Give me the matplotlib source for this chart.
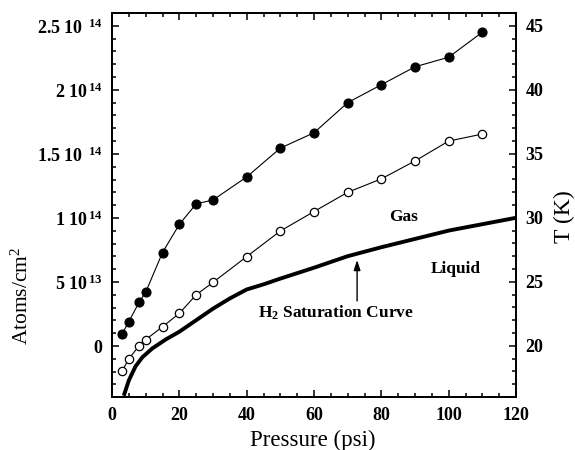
import numpy as np
import matplotlib
matplotlib.use('Agg')
import matplotlib.pyplot as plt
from matplotlib.ticker import MultipleLocator

# column density measured vs. gas pressure (two target series)
pressure = [3, 5, 8, 10, 15, 20, 25, 30, 40, 50, 60, 70, 80, 90, 100, 110]
atoms_filled = [0.95e13, 1.9e13, 3.4e13, 4.2e13, 7.3e13, 9.5e13, 1.11e14,
                1.14e14, 1.32e14, 1.545e14, 1.665e14, 1.90e14, 2.04e14,
                2.18e14, 2.255e14, 2.45e14]
atoms_open = [-1.95e13, -1.0e13, 0.0, 0.5e13, 1.5e13, 2.55e13, 4.0e13,
              4.97e13, 6.98e13, 8.98e13, 1.05e14, 1.20e14, 1.305e14,
              1.445e14, 1.60e14, 1.655e14]

# H2 liquid/gas boundary, T (K) vs. pressure (psi)
sat_pressure = [3.5, 5, 7, 9, 12, 16, 20, 25, 30, 35, 40, 45, 50, 60, 70,
                80, 90, 100, 110, 120]
sat_temp = [16.1, 17.3, 18.4, 19.1, 19.8, 20.5, 21.1, 22.0, 22.9, 23.7,
            24.4, 24.8, 25.25, 26.1, 27.0, 27.7, 28.35, 29.0, 29.5, 30.0]

atoms_ticks = [0, 5e13, 1e14, 1.5e14, 2e14, 2.5e14]
atoms_ticklabels = ['0', r'$\mathbf{5\ 10^{\,13}}$', r'$\mathbf{1\ 10^{\,14}}$',
                    r'$\mathbf{1.5\ 10^{\ \ 14}}$', r'$\mathbf{2\ 10^{\,14}}$',
                    r'$\mathbf{2.5\ 10^{\ \ 14}}$']
temp_ticks = [20, 25, 30, 35, 40, 45]

plt.rcParams['font.family'] = 'serif'
plt.rcParams['font.serif'] = ['Liberation Serif', 'DejaVu Serif']
plt.rcParams['mathtext.fontset'] = 'custom'
plt.rcParams['mathtext.rm'] = 'Liberation Serif'
plt.rcParams['mathtext.it'] = 'Liberation Serif:italic'
plt.rcParams['mathtext.bf'] = 'Liberation Serif:bold'

fig = plt.figure(figsize=(5.75, 4.5), dpi=100)
ax = fig.add_axes([0.1948, 0.1178, 0.7026, 0.8533])
ax2 = ax.twinx()

ax.plot(pressure, atoms_filled, color='black', lw=0.8, marker='o',
        markersize=6.5, markerfacecolor='black', markeredgewidth=0.8)
ax.plot(pressure, atoms_open, color='black', lw=0.8, marker='o',
        markersize=6, markerfacecolor='white', markeredgewidth=0.9)
ax2.plot(sat_pressure, sat_temp, color='black', lw=2.8,
         solid_capstyle='butt')

ax.set_xlim(0, 120)
ax.set_ylim(-3.98e13, 2.60e14)
ax2.set_ylim(16.0, 46.0)

ax.set_xticks(np.arange(0, 121, 20))
ax.xaxis.set_minor_locator(MultipleLocator(5))
ax.set_yticks(atoms_ticks)
ax.set_yticklabels(atoms_ticklabels)
ax.yaxis.set_minor_locator(MultipleLocator(1e13))
ax2.set_yticks(temp_ticks)
ax2.yaxis.set_minor_locator(MultipleLocator(1))

for a in (ax, ax2):
    for s in a.spines.values():
        s.set_linewidth(1.3)
ax.tick_params(which='both', direction='in', top=True, right=False,
               width=1.1, labelsize=13, pad=7)
ax.tick_params(which='major', length=5)
ax.tick_params(which='minor', length=3)
ax2.tick_params(which='both', direction='in', width=1.1, labelsize=13, pad=7)
ax2.tick_params(which='major', length=5)
ax2.tick_params(which='minor', length=3)
for lab in ax.get_xticklabels() + ax.get_yticklabels() + ax2.get_yticklabels():
    lab.set_fontweight('bold')

ax.set_xlabel('Pressure (psi)', fontsize=16.5)
ax.xaxis.set_label_coords(0.496, -0.085)
ax.set_ylabel(r'Atoms/cm$^2$', fontsize=15.5)
ax.yaxis.set_label_coords(-0.196, 0.263)
ax2.set_ylabel('T (K)', fontsize=17)
ax2.yaxis.set_label_coords(1.093, 0.471)

ax2.text(86.6, 30.1, 'Gas', fontsize=12.5, fontweight='bold',
         ha='center', va='center')
ax2.text(102, 26.0, 'Liquid', fontsize=12.5, fontweight='bold',
         ha='center', va='center')
ax2.text(43.5, 22.6, r'H$_{\mathbf{2}}$ Saturation Curve', fontsize=12.5,
         fontweight='bold', ha='left', va='center')
ax2.annotate('', xy=(72.8, 26.7), xytext=(72.8, 23.5),
             arrowprops=dict(arrowstyle='-|>,head_length=0.6,head_width=0.2',
                             color='black', lw=1.0, shrinkA=0, shrinkB=0))

fig.savefig('out.png', dpi=100)
